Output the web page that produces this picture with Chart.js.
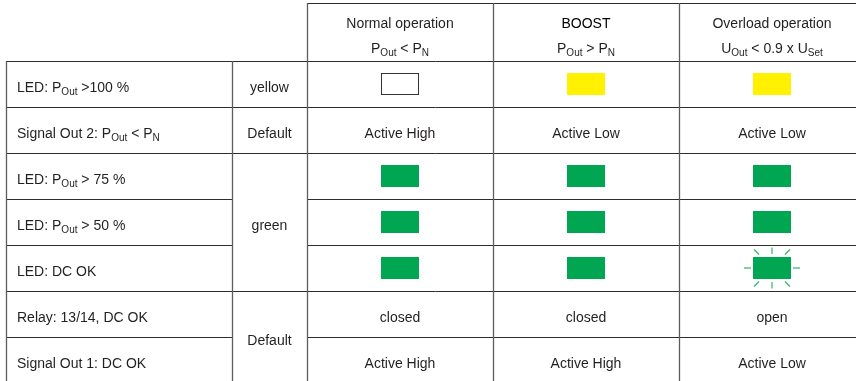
<!DOCTYPE html>
<html>
<head>
<meta charset="utf-8">
<script src="https://cdn.jsdelivr.net/npm/chart.js@4.4.1/dist/chart.umd.min.js"></script>
<style>
  html, body { margin: 0; padding: 0; background: #fff; overflow: hidden; }
  #wrap { width: 865px; height: 383px; }
</style>
</head>
<body>
<div id="wrap"><canvas id="chart" width="865" height="383"></canvas></div>
<script>
// operating modes (columns) and their conditions
const modes = ["Normal operation", "BOOST", "Overload operation"];
const modeConditions = ["P_{Out} < P_{N}", "P_{Out} > P_{N}", "U_{Out} < 0.9 x U_{Set}"];

// signals (rows)
const signals = [
  "LED: P_{Out} >100 %",
  "Signal Out 2: P_{Out} < P_{N}",
  "LED: P_{Out} > 75 %",
  "LED: P_{Out} > 50 %",
  "LED: DC OK",
  "Relay: 13/14, DC OK",
  "Signal Out 1: DC OK"
];

// merged cells of the colour / default column
const groupLabels = ["yellow", "Default", "green", "Default"];
const groupFirstRow = [0, 1, 2, 5];
const groupLastRow = [0, 1, 4, 6];

// state of every signal in each mode
const ledOver100 = ["off", "yellow", "yellow"];
const signalOut2 = ["Active High", "Active Low", "Active Low"];
const ledOver75 = ["green", "green", "green"];
const ledOver50 = ["green", "green", "green"];
const ledDcOk = ["green", "green", "blink"];
const relayDcOk = ["closed", "closed", "open"];
const signalOut1 = ["Active High", "Active High", "Active Low"];

const rowStates = [ledOver100, signalOut2, ledOver75, ledOver50, ledDcOk, relayDcOk, signalOut1];
const ledKinds = ["off", "yellow", "green", "blink"];

//Layout
const LABEL_LEFT = 6;
const GROUP_LEFT = 232;
const TABLE_LEFT = 307;
const HEADER_TOP = 3;
const HEADER_BOTTOM = 61;
const TEXT_COLOR = "#231f20";
const MAIN_FONT = '14px "Liberation Sans", Arial, sans-serif';
const SUB_FONT = '10px "Liberation Sans", Arial, sans-serif';

//LED images used as point styles
function makeLed(kind) {
  const c = document.createElement("canvas");
  const blink = kind === "blink";
  c.width = blink ? 62 : 38;
  c.height = blink ? 46 : 22;
  const ctx = c.getContext("2d");
  const cx = c.width / 2;
  const cy = c.height / 2;
  if (kind === "off") {
    ctx.fillStyle = "#fff";
    ctx.fillRect(0, 0, 38, 22);
    ctx.strokeStyle = "#333";
    ctx.lineWidth = 1;
    ctx.strokeRect(0.5, 0.5, 37, 21);
  } else {
    ctx.fillStyle = kind === "yellow" ? "#fff100" : "#00a651";
    ctx.fillRect(cx - 19, cy - 11, 38, 22);
  }
  if (blink) {
    ctx.strokeStyle = "#33b36a";
    ctx.lineWidth = 1.2;
    const rays = [
      [0, -20.5, 0, -14], [0, 14, 0, 20.5],
      [-28, 0, -21, 0], [21, 0, 28, 0],
      [-18, -18.5, -13, -13.5], [13, -13.5, 18, -18.5],
      [-18, 18.5, -13, 13.5], [13, 13.5, 18, 18.5]
    ];
    rays.forEach(function (r) {
      ctx.beginPath();
      ctx.moveTo(cx + r[0], cy + r[1]);
      ctx.lineTo(cx + r[2], cy + r[3]);
      ctx.stroke();
    });
  }
  return c;
}

//Text with subscripts, written as P_{Out}
function parseRich(str) {
  const parts = [];
  const re = /_\{([^}]*)\}/g;
  let last = 0;
  let m;
  while ((m = re.exec(str))) {
    if (m.index > last) parts.push({ t: str.slice(last, m.index), sub: false });
    parts.push({ t: m[1], sub: true });
    last = re.lastIndex;
  }
  if (last < str.length) parts.push({ t: str.slice(last), sub: false });
  return parts;
}

function drawRich(ctx, str, x, y, align) {
  const parts = parseRich(str);
  const widths = parts.map(function (p) {
    ctx.font = p.sub ? SUB_FONT : MAIN_FONT;
    return ctx.measureText(p.t).width;
  });
  const total = widths.reduce((a, b) => a + b, 0);
  let px = align === "center" ? x - total / 2 : x;
  parts.forEach(function (p, i) {
    ctx.font = p.sub ? SUB_FONT : MAIN_FONT;
    ctx.fillText(p.t, px, p.sub ? y + 3 : y);
    px += widths[i];
  });
}

//Table grid and texts
const tablePlugin = {
  id: "tableGrid",
  beforeDatasetsDraw(chart) {
    const { ctx, chartArea: area, scales } = chart;
    const xs = scales.x;
    const ys = scales.y;
    const rowEdge = (k) =>
      k === 0 ? area.top : k === signals.length ? area.bottom
        : Math.round((ys.getPixelForValue(k - 1) + ys.getPixelForValue(k)) / 2);
    const colEdges = [TABLE_LEFT];
    for (let i = 1; i < modes.length; i++) {
      colEdges.push(Math.round((xs.getPixelForValue(i - 1) + xs.getPixelForValue(i)) / 2));
    }

    ctx.save();
    // horizontal lines
    ctx.strokeStyle = "#2e2e2e";
    ctx.lineWidth = 1;
    const hLine = (y, x1, x2) => {
      ctx.beginPath();
      ctx.moveTo(x1, y + 0.5);
      ctx.lineTo(x2, y + 0.5);
      ctx.stroke();
    };
    hLine(HEADER_TOP, TABLE_LEFT, area.right);
    for (let k = 0; k < signals.length; k++) {
      const y = rowEdge(k);
      const inside = groupFirstRow.some((f, g) => k > f && k <= groupLastRow[g]);
      if (inside) {
        hLine(y, LABEL_LEFT, GROUP_LEFT);
        hLine(y, TABLE_LEFT, area.right);
      } else {
        hLine(y, LABEL_LEFT, area.right);
      }
    }
    // vertical lines
    ctx.strokeStyle = "#5c5c5c";
    ctx.lineWidth = 1.3;
    const vLine = (x, y1, y2) => {
      ctx.beginPath();
      ctx.moveTo(x + 0.5, y1);
      ctx.lineTo(x + 0.5, y2);
      ctx.stroke();
    };
    vLine(LABEL_LEFT, HEADER_BOTTOM, area.bottom);
    vLine(GROUP_LEFT, HEADER_BOTTOM, area.bottom);
    colEdges.forEach((x) => vLine(x, HEADER_TOP, area.bottom));
    ctx.restore();
  },
  afterDatasetsDraw(chart) {
    const { ctx, scales } = chart;
    const xs = scales.x;
    const ys = scales.y;
    ctx.save();
    ctx.fillStyle = TEXT_COLOR;
    ctx.textAlign = "left";
    ctx.textBaseline = "alphabetic";

    // header
    modes.forEach(function (mode, i) {
      const x = xs.getPixelForValue(i);
      ctx.fillStyle = mode === "BOOST" ? "#000" : TEXT_COLOR;
      drawRich(ctx, mode, x, 28, "center");
      ctx.fillStyle = TEXT_COLOR;
      drawRich(ctx, modeConditions[i], x, 53, "center");
    });

    // signal names
    signals.forEach(function (s, r) {
      drawRich(ctx, s, LABEL_LEFT + 11, ys.getPixelForValue(r) + 8, "left");
    });

    // merged group cells
    groupLabels.forEach(function (g, i) {
      const y = (ys.getPixelForValue(groupFirstRow[i]) + ys.getPixelForValue(groupLastRow[i])) / 2;
      drawRich(ctx, g, (GROUP_LEFT + TABLE_LEFT) / 2, y + 8, "center");
    });

    // text states
    rowStates.forEach(function (states, r) {
      states.forEach(function (st, c) {
        if (ledKinds.includes(st)) return;
        drawRich(ctx, st, xs.getPixelForValue(c), ys.getPixelForValue(r) + 8, "center");
      });
    });
    ctx.restore();
  }
};

//LED datasets
const datasets = ledKinds.map(function (kind) {
  const points = [];
  rowStates.forEach(function (states, r) {
    states.forEach(function (st, c) {
      if (st === kind) points.push({ x: modes[c], y: signals[r] });
    });
  });
  return {
    label: kind,
    data: points,
    pointStyle: makeLed(kind),
    pointRadius: 10,
    pointHoverRadius: 10,
    showLine: false
  };
});

new Chart(document.getElementById("chart"), {
  type: "scatter",
  data: { datasets: datasets },
  options: {
    responsive: false,
    animation: false,
    devicePixelRatio: 1,
    events: [],
    layout: {
      autoPadding: false,
      padding: { left: TABLE_LEFT, top: HEADER_BOTTOM, right: 0, bottom: 0 }
    },
    scales: {
      x: { type: "category", labels: modes, offset: true, display: false },
      y: { type: "category", labels: signals, offset: true, display: false }
    },
    plugins: {
      legend: { display: false },
      tooltip: { enabled: false }
    }
  },
  plugins: [tablePlugin]
});
</script>
</body>
</html>
